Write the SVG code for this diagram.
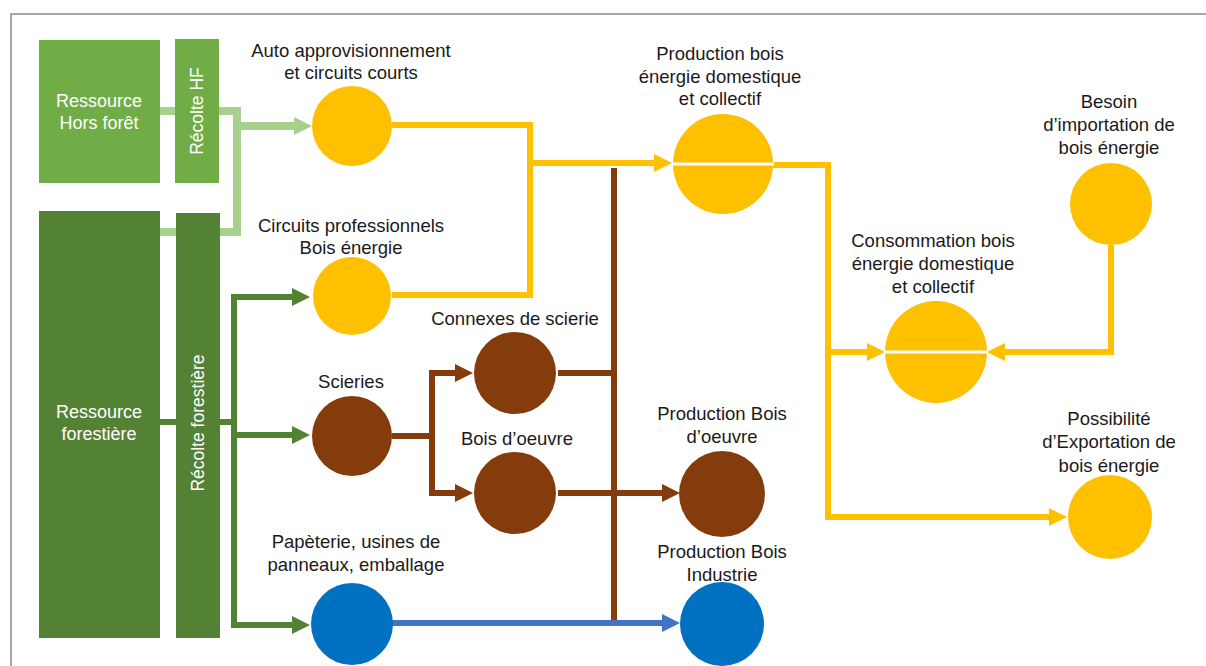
<svg xmlns="http://www.w3.org/2000/svg" width="1206" height="666" viewBox="0 0 1206 666">
<style>
text{font-family:"Liberation Sans",Arial,sans-serif;font-size:18.5px;fill:#1a1a1a;text-anchor:middle}
.w{fill:#ffffff;font-size:18px}
.wv{fill:#ffffff;font-size:17.5px}
.c{fill:none;stroke-linejoin:miter;stroke-linecap:butt}
.lg{stroke:#A9D18E;stroke-width:8}
.dg{stroke:#548235;stroke-width:6}
.y{stroke:#FFC000;stroke-width:6}
.br{stroke:#843C0C;stroke-width:6}
.bl{stroke:#4472C4;stroke-width:6}
.fy{fill:#FFC000}.fb{fill:#843C0C}.fbl{fill:#0070C0}
</style>
<defs>
<marker id="alg" viewBox="0 0 18 18" refX="8" refY="9" markerWidth="18" markerHeight="18" markerUnits="userSpaceOnUse" orient="auto"><path d="M0,0L18,9L0,18z" fill="#A9D18E"/></marker>
<marker id="adg" viewBox="0 0 18 18" refX="8" refY="9" markerWidth="18" markerHeight="18" markerUnits="userSpaceOnUse" orient="auto"><path d="M0,0L18,9L0,18z" fill="#548235"/></marker>
<marker id="ay" viewBox="0 0 18 18" refX="8" refY="9" markerWidth="18" markerHeight="18" markerUnits="userSpaceOnUse" orient="auto"><path d="M0,0L18,9L0,18z" fill="#FFC000"/></marker>
<marker id="abr" viewBox="0 0 18 18" refX="8" refY="9" markerWidth="18" markerHeight="18" markerUnits="userSpaceOnUse" orient="auto"><path d="M0,0L18,9L0,18z" fill="#843C0C"/></marker>
<marker id="abl" viewBox="0 0 18 18" refX="8" refY="9" markerWidth="18" markerHeight="18" markerUnits="userSpaceOnUse" orient="auto"><path d="M0,0L18,9L0,18z" fill="#4472C4"/></marker>
</defs>
<rect width="1206" height="666" fill="#ffffff"/>
<path d="M11,666V14H1206" fill="none" stroke="#8a8a8a" stroke-width="1.5"/>

<g id="connectors">
<path class="c lg" d="M160,111H175M219,111H237V232H220M160,232H176"/>
<path class="c lg" d="M237,126H302" marker-end="url(#alg)"/>
<path class="c dg" d="M160,422H176M220,422H234M234,294V628"/>
<path class="c dg" d="M234,297H300" marker-end="url(#adg)"/>
<path class="c dg" d="M234,435H300" marker-end="url(#adg)"/>
<path class="c dg" d="M234,625H300" marker-end="url(#adg)"/>
<path class="c y" d="M392,125H530V295H392"/>
<path class="c y" d="M530,163H662" marker-end="url(#ay)"/>
<path class="c y" d="M773,165H828V517H1057" marker-end="url(#ay)"/>
<path class="c y" d="M828,352H875" marker-end="url(#ay)"/>
<path class="c y" d="M1111,245V352H997" marker-end="url(#ay)"/>
<path class="c br" d="M392,436H432M432,370V496M558,373H614M614,168V621"/>
<path class="c br" d="M432,373H463" marker-end="url(#abr)"/>
<path class="c br" d="M432,493H463" marker-end="url(#abr)"/>
<path class="c br" d="M558,493H670" marker-end="url(#abr)"/>
<path class="c bl" d="M392,623H670" marker-end="url(#abl)"/>
</g>

<g id="ressource-hors-foret">
<rect x="39" y="40" width="121" height="143" fill="#70AD47"/>
<text class="w" x="99" y="107">Ressource</text>
<text class="w" x="99" y="129">Hors forêt</text>
</g>
<g id="recolte-hf">
<rect x="175" y="39" width="44" height="144" fill="#70AD47"/>
<text class="wv" transform="translate(203,111) rotate(-90)">Récolte HF</text>
</g>
<g id="ressource-forestiere">
<rect x="39" y="211" width="121" height="427" fill="#548235"/>
<text class="w" x="99" y="418">Ressource</text>
<text class="w" x="99" y="440">forestière</text>
</g>
<g id="recolte-forestiere">
<rect x="176" y="213" width="44" height="425" fill="#548235"/>
<text class="wv" transform="translate(204,423) rotate(-90)">Récolte forestière</text>
</g>

<g id="auto-approvisionnement">
<circle class="fy" cx="352" cy="126" r="40"/>
<text x="351" y="57">Auto approvisionnement</text>
<text x="351" y="79">et circuits courts</text>
</g>
<g id="circuits-professionnels">
<circle class="fy" cx="352" cy="296" r="39"/>
<text x="351" y="232">Circuits professionnels</text>
<text x="351" y="254">Bois énergie</text>
</g>
<g id="scieries">
<circle class="fb" cx="352" cy="436" r="40"/>
<text x="351" y="388">Scieries</text>
</g>
<g id="papeterie">
<circle class="fbl" cx="352" cy="624" r="41"/>
<text x="356" y="548">Papèterie, usines de</text>
<text x="356" y="571">panneaux, emballage</text>
</g>
<g id="connexes-scierie">
<circle class="fb" cx="515" cy="373" r="41"/>
<text x="515" y="325">Connexes de scierie</text>
</g>
<g id="bois-oeuvre">
<circle class="fb" cx="515" cy="493" r="41"/>
<text x="517" y="445">Bois d’oeuvre</text>
</g>
<g id="production-bois-oeuvre">
<circle class="fb" cx="722" cy="494" r="43"/>
<text x="722" y="420">Production Bois</text>
<text x="722" y="443">d’oeuvre</text>
</g>
<g id="production-bois-industrie">
<circle class="fbl" cx="722" cy="624" r="42"/>
<text x="722" y="558">Production Bois</text>
<text x="722" y="581">Industrie</text>
</g>
<g id="production-bois-energie">
<circle class="fy" cx="723" cy="164" r="50"/>
<rect x="672" y="162.5" width="102" height="3" fill="#ffffff"/>
<text x="720" y="60">Production bois</text>
<text x="720" y="83">énergie domestique</text>
<text x="720" y="105">et collectif</text>
</g>
<g id="besoin-importation">
<circle class="fy" cx="1111" cy="204" r="41"/>
<text x="1109" y="108">Besoin</text>
<text x="1109" y="131">d’importation de</text>
<text x="1109" y="154">bois énergie</text>
</g>
<g id="consommation-bois-energie">
<circle class="fy" cx="936" cy="352" r="51"/>
<rect x="884" y="350.5" width="104" height="3" fill="#ffffff"/>
<text x="933" y="247">Consommation bois</text>
<text x="933" y="270">énergie domestique</text>
<text x="933" y="293">et collectif</text>
</g>
<g id="possibilite-exportation">
<circle class="fy" cx="1110" cy="517" r="42"/>
<text x="1109" y="425">Possibilité</text>
<text x="1109" y="448">d’Exportation de</text>
<text x="1109" y="472">bois énergie</text>
</g>
</svg>
